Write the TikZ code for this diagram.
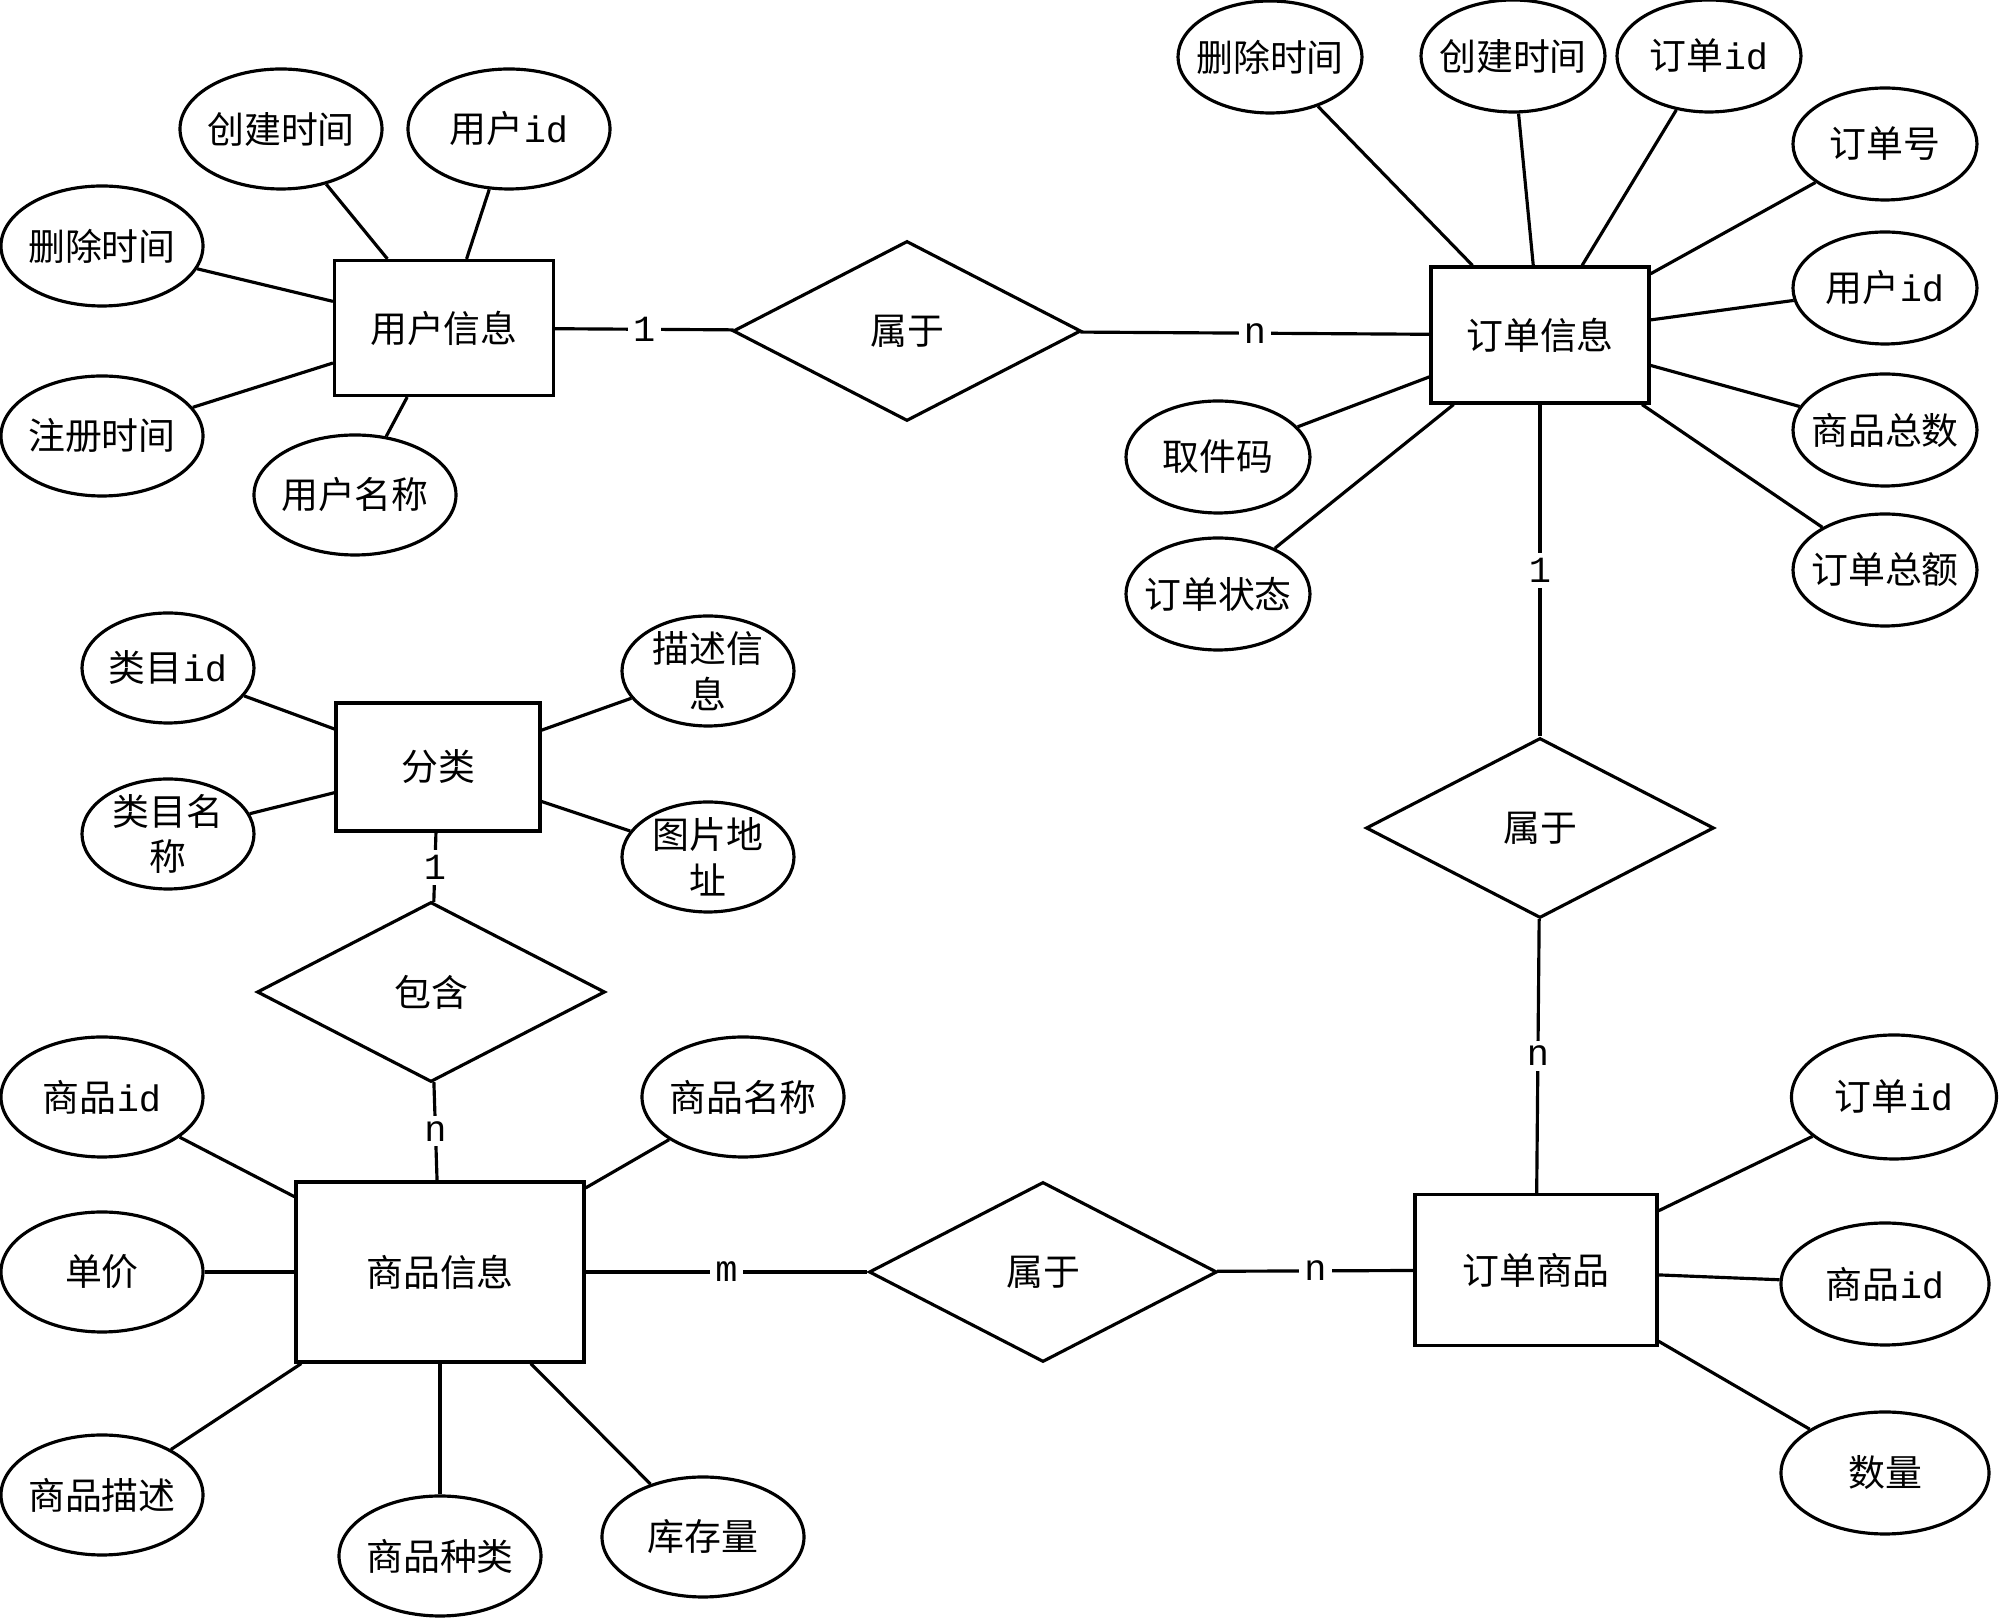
\documentclass[tikz,border=0pt]{standalone}
\usepackage{fontspec}
\setmainfont{Noto Sans CJK SC}
\newfontfamily\latf{Liberation Mono}
\usetikzlibrary{shapes.geometric}
\begin{document}
\begin{tikzpicture}[x=0.1mm,y=-0.1mm,line width=0.9pt,
  txt/.style={font=\fontsize{10.5}{13}\selectfont},
  ent/.style={txt,draw,rectangle,inner sep=0pt},
  rel/.style={txt,draw,diamond,minimum width=34.8mm,minimum height=18mm,inner sep=0pt},
  attr/.style={txt,draw,ellipse,inner xsep=-3mm,inner ysep=-1mm,align=center},
  attrA/.style={attr,minimum width=20.2mm,minimum height=12mm},
  attrB/.style={attr,minimum width=18.4mm,minimum height=11.2mm},
  attrC/.style={attr,minimum width=17.2mm,minimum height=11mm},
  card/.style={fill=white,inner sep=1.5pt,font=\latf\fontsize{10.5}{12}\selectfont}
]
\useasboundingbox (0,0) rectangle (2000,1619);

% entities
\node[ent,minimum width=21.9mm,minimum height=13.5mm] (user) at (444,328) {用户信息};
\node[ent,minimum width=21.8mm,minimum height=13.6mm] (order) at (1540,335) {订单信息};
\node[ent,minimum width=20.4mm,minimum height=12.8mm] (cat) at (438,767) {分类};
\node[ent,minimum width=28.8mm,minimum height=18mm] (goods) at (440,1272) {商品信息};
\node[ent,minimum width=24.2mm,minimum height=15.1mm] (og) at (1536,1270) {订单商品};

% relationships
\node[rel] (r1) at (907,331) {属于};
\node[rel] (r2) at (1540,828) {属于};
\node[rel] (r3) at (431,992) {包含};
\node[rel] (r4) at (1043,1272) {属于};

% user attributes
\node[attrA] (u1) at (281,129) {创建时间};
\node[attrA] (u2) at (509,129) {用户{\latf id}};
\node[attrA] (u3) at (102,246) {删除时间};
\node[attrA] (u4) at (102,436) {注册时间};
\node[attrA] (u5) at (355,495) {用户名称};

% order attributes
\node[attrB] (o1) at (1270,57) {删除时间};
\node[attrB] (o2) at (1513,56) {创建时间};
\node[attrB] (o3) at (1709,56) {订单{\latf id}};
\node[attrB] (o4) at (1885,144) {订单号};
\node[attrB] (o5) at (1885,288) {用户{\latf id}};
\node[attrB] (o6) at (1885,430) {商品总数};
\node[attrB] (o7) at (1885,570) {订单总额};
\node[attrB] (o8) at (1218,457) {取件码};
\node[attrB] (o9) at (1218,594) {订单状态};

% category attributes
\node[attrC] (c1) at (168,668) {类目{\latf id}};
\node[attrC] (c2) at (168,834) {类目名\\称};
\node[attrC] (c3) at (708,671) {描述信\\息};
\node[attrC] (c4) at (708,857) {图片地\\址};

% goods attributes
\node[attrA] (g1) at (102,1097) {商品{\latf id}};
\node[attrA] (g2) at (102,1272) {单价};
\node[attrA] (g3) at (102,1495) {商品描述};
\node[attrA] (g4) at (440,1556) {商品种类};
\node[attrA] (g5) at (703,1537) {库存量};
\node[attrA] (g6) at (743,1097) {商品名称};

% order-goods attributes
\node[attr,minimum width=20.5mm,minimum height=12.4mm] (q1) at (1894,1097) {订单{\latf id}};
\node[attr,minimum width=20.8mm,minimum height=12.2mm] (q2) at (1885,1284) {商品{\latf id}};
\node[attr,minimum width=20.8mm,minimum height=12.2mm] (q3) at (1885,1473) {数量};

% attribute lines
\foreach \a in {u1,u2,u3,u4,u5} \draw (user) -- (\a);
\foreach \a in {o1,o2,o3,o4,o5,o6,o7,o8,o9} \draw (order) -- (\a);
\foreach \a in {c1,c2,c3,c4} \draw (cat) -- (\a);
\foreach \a in {g1,g2,g3,g4,g5,g6} \draw (goods) -- (\a);
\foreach \a in {q1,q2,q3} \draw (og) -- (\a);

% relationship lines
\draw (user) -- (r1) node[card,midway] {1};
\draw (r1) -- (order) node[card,midway] {n};
\draw (order) -- (r2) node[card,midway] {1};
\draw (r2) -- (og) node[card,midway] {n};
\draw (cat) -- (r3) node[card,midway] {1};
\draw (r3) -- (goods) node[card,midway] {n};
\draw (goods) -- (r4) node[card,midway] {m};
\draw (r4) -- (og) node[card,midway] {n};
\end{tikzpicture}
\end{document}
